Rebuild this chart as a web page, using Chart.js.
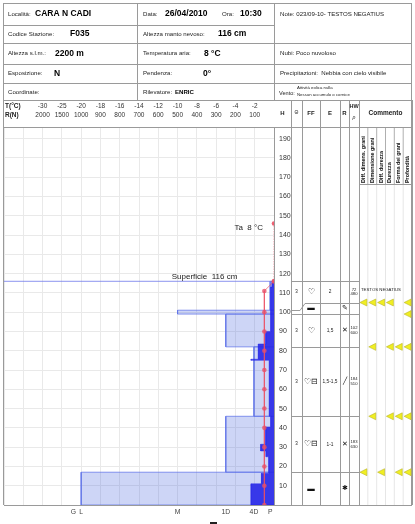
<!DOCTYPE html>
<html>
<head>
<meta charset="utf-8">
<script src="https://cdn.jsdelivr.net/npm/chart.js@4"></script>
<style>
  html, body { margin: 0; padding: 0; background: #fff; }
  #wrap { position: relative; width: 415px; height: 524px; }
</style>
</head>
<body>
<div id="wrap"><canvas id="profile"></canvas></div>
<script>
// header row of the plot: one label pair per grid cell, counted from the right edge
const tempTicks = [-2, -4, -6, -8, -10, -12, -14, -16, -18, -20, -25, -30];
const ramTicks = [100, 200, 300, 400, 500, 600, 700, 800, 900, 1000, 1500, 2000];

// hand hardness classes on the bottom axis (in grid cells from the right)
const hardLabels = ['G', 'L', 'M', '1D', '4D', 'P'];
const hardPos = [10.4, 10, 5, 2.5, 1.04, 0.2];

// stratigraphy (cm) and hand hardness per layer
const layerTop = [116, 101, 99, 82, 46, 17];
const layerBottom = [101, 99, 82, 46, 17, 0];
const layerHard = ['P', 'M', '1D', '4D', '1D', 'L'];

// ram penetration profile (N)
const ramTop = [116, 113, 90, 83.5, 75.6, 75, 46, 40.5, 31.5, 28, 25, 16.5, 11];
const ramBottom = [113, 90, 83.5, 75.6, 75, 46, 40.5, 31.5, 28, 25, 16.5, 11, 0];
const ramN = [10, 17, 43, 81, 119, 24, 17, 43, 69, 41, 27, 65, 119];

// snow temperature profile
const tempH = [116, 111, 100, 90, 80, 70, 60, 50, 40, 30, 20, 10, 0];
const tempC = [0, -1, -1, -1, -1, -1, -1, -1, -1, -1, -1, -1, -1];
const airH = 146;
const airT = 8;
const surfaceH = 116;

// layer table on the right (thin crust widened in the table)
const rowTop = [116, 105, 99, 82, 46, 17];
const rowBottom = [105, 99, 82, 46, 17, 0];
const wetness = ['3', '', '3', '3', '3', ''];
const grainForm = ['\u2661', '\u25AC', '\u2661', '\u2661\u229F', '\u2661\u229F', '\u25AC'];
const grainSize = ['2', '', '1,5', '1,5-1,5', '1-1', ''];
const hardSym = ['', '\u270E', '\u2715', '\u2571', '\u2715', '\u2731'];
const hwVal = ['72', '', '102', '184', '183', ''];
const density = ['480', '', '600', '510', '630', ''];
const comments = ['TESTOS NEGATIUS', '', '', '', '', ''];

// threshold markers ("lemons") per table boundary, one flag per comment sub-column
const lemonH = [105, 99, 82, 46, 17];
const lemonCols = [
  [1, 1, 1, 1, 0, 1],
  [0, 0, 0, 0, 0, 1],
  [0, 1, 0, 1, 1, 1],
  [0, 1, 0, 1, 1, 1],
  [1, 0, 1, 0, 1, 1]
];
const commentHead = ['Diff. dimens. grani', 'Dimensione grani', 'Diff. durezza', 'Durezza', 'Forma dei grani', 'Profondit\u00e0'];

const FONT = '"Liberation Sans", Arial, sans-serif';
Chart.defaults.font.family = FONT;

// value -> grid cell, using the header tick row as the scale
function toCell(v, ticks) {
  const a = Math.abs(v);
  if (v > 0 && ticks === tempTicks) return 0;
  let prev = 0, prevCell = 0;
  for (let i = 0; i < ticks.length; i++) {
    const t = Math.abs(ticks[i]);
    if (a <= t) return prevCell + (a - prev) / (t - prev);
    prev = t; prevCell = i + 1;
  }
  return ticks.length;
}
const hardCell = {};
hardLabels.forEach((l, i) => hardCell[l] = hardPos[i]);

const hardSets = layerTop.map((top, i) => {
  const c = hardCell[layerHard[i]];
  return {
    data: [{x: 0, y: top}, {x: c, y: top}, {x: c, y: layerBottom[i]}, {x: 0, y: layerBottom[i]}],
    fill: 'shape',
    backgroundColor: 'rgba(70,100,220,0.27)',
    borderColor: 'rgba(95,115,232,0.75)',
    borderWidth: 1,
    pointRadius: 0,
    order: 5
  };
});

const ramPts = [{x: 0, y: ramTop[0]}];
ramTop.forEach((t, i) => {
  const c = toCell(ramN[i], ramTicks);
  ramPts.push({x: c, y: t}, {x: c, y: ramBottom[i]});
});
ramPts.push({x: 0, y: 0});

const snowTemp = tempH.map((h, i) => ({x: toCell(tempC[i], tempTicks), y: h}));

const datasets = [
  ...hardSets,
  {
    data: ramPts, fill: 'shape', backgroundColor: 'rgba(40,40,232,0.9)',
    borderColor: 'rgba(40,40,232,0.9)', borderWidth: 0.5, pointRadius: 0, order: 4
  },
  {
    data: [{x: 14, y: surfaceH}, {x: 0, y: surfaceH}],
    borderColor: 'rgba(110,120,235,0.8)', borderWidth: 1, pointRadius: 0, order: 3
  },
  {
    data: [{x: toCell(airT, tempTicks), y: airH}, snowTemp[0]],
    borderColor: 'rgba(235,90,110,0.6)', borderWidth: 1, borderDash: [1.5, 1],
    pointRadius: 2.3, pointBackgroundColor: 'rgba(235,70,90,0.85)', pointBorderWidth: 0, order: 2
  },
  {
    data: snowTemp,
    borderColor: 'rgba(235,80,100,0.7)', borderWidth: 1,
    pointRadius: 2.3, pointBackgroundColor: 'rgba(232,80,105,0.8)', pointBorderWidth: 0, order: 1
  }
];

function txt(ctx, s, x, y, size, o = {}) {
  ctx.font = (o.italic ? 'italic ' : '') + (o.bold ? 'bold ' : '') + size + 'px ' + FONT;
  ctx.fillStyle = o.color || '#222';
  ctx.textAlign = o.align || 'left';
  ctx.textBaseline = 'middle';
  ctx.fillText(s, x, y);
}
function line(ctx, x0, y0, x1, y1, color, w) {
  ctx.strokeStyle = color || '#999';
  ctx.lineWidth = w || 1;
  ctx.beginPath();
  ctx.moveTo(x0, y0);
  ctx.lineTo(x1, y1);
  ctx.stroke();
}

const colX = [274, 291, 302, 320, 340, 349, 359, 412];
const subX = [359, 367.8, 376.7, 385.5, 394.3, 403.2, 412];

const sheet = {
  id: 'sheet',
  afterDraw(chart) {
    const ctx = chart.ctx;
    const ys = chart.scales.y, xs = chart.scales.x;
    const g = '#9a9a9a';
    ctx.save();

    // header table
    [3.5, 100.5, 127.5].forEach(y => line(ctx, 3, y, 412, y, g));
    [43.5, 64.5, 83.5].forEach(y => line(ctx, 3, y, 412, y, g));
    line(ctx, 3, 25.5, 274, 25.5, g);
    line(ctx, 3.5, 3, 3.5, 505, g);
    line(ctx, 411.5, 3, 411.5, 505, g);
    line(ctx, 137.5, 3, 137.5, 100, g);
    line(ctx, 274.5, 3, 274.5, 100, g);

    const s = 6.1, b = 8.5;
    txt(ctx, 'Localit\u00e0:', 8, 14, s);
    txt(ctx, 'CARA N CADI', 35, 14, b, {bold: true, color: '#000'});
    txt(ctx, 'Codice Stazione:', 8, 34, s);
    txt(ctx, 'F035', 70, 34, b, {bold: true, color: '#000'});
    txt(ctx, 'Altezza s.l.m.:', 8, 53.5, s);
    txt(ctx, '2200 m', 55, 53.5, b, {bold: true, color: '#000'});
    txt(ctx, 'Esposizione:', 8, 73.5, s);
    txt(ctx, 'N', 54, 73.5, b, {bold: true, color: '#000'});
    txt(ctx, 'Coordinate:', 8, 92, s);
    txt(ctx, 'Data:', 143, 14, s);
    txt(ctx, '26/04/2010', 165, 14, b, {bold: true, color: '#000'});
    txt(ctx, 'Ora:', 222, 14, s);
    txt(ctx, '10:30', 240, 14, b, {bold: true, color: '#000'});
    txt(ctx, 'Altezza manto nevoso:', 143, 34, s);
    txt(ctx, '116 cm', 218, 34, b, {bold: true, color: '#000'});
    txt(ctx, 'Temperatura aria:', 143, 53.5, s);
    txt(ctx, '8 \u00b0C', 204, 53.5, b, {bold: true, color: '#000'});
    txt(ctx, 'Pendenza:', 143, 73.5, s);
    txt(ctx, '0\u00b0', 203, 73.5, b, {bold: true, color: '#000'});
    txt(ctx, 'Rilevatore:', 143, 92, s);
    txt(ctx, 'ENRIC', 175, 92, 6.1, {bold: true, color: '#000'});
    txt(ctx, 'Note: 023/09-10- TESTOS NEGATIUS', 280, 14, s);
    txt(ctx, 'Nubi: Poco nuvoloso', 280, 53.5, s);
    txt(ctx, 'Precipitazioni:  Nebbia con cielo visibile', 280, 73.5, s);
    txt(ctx, 'Vento:', 279, 93, 5.6);
    txt(ctx, 'Attivit\u00e0 eolica nulla', 297, 87.5, 4.3);
    txt(ctx, 'Nessun accumulo o cornice', 297, 95, 4.3);

    txt(ctx, 'T(\u00b0C)', 5, 106, 6.5, {bold: true});
    txt(ctx, 'R(N)', 5, 115, 6.5, {bold: true});

    // right table frame
    colX.forEach((x, i) => { if (i > 0) line(ctx, x + 0.5, 100, x + 0.5, 505, g); });
    line(ctx, 274, 505.5, 412, 505.5, g);
    txt(ctx, 'H', 282.5, 113, 6, {bold: true, align: 'center'});
    txt(ctx, '\u0398', 296.5, 113, 5, {align: 'center'});
    txt(ctx, 'FF', 311, 113, 6, {bold: true, align: 'center'});
    txt(ctx, 'E', 330, 113, 6, {bold: true, align: 'center'});
    txt(ctx, 'R', 344.5, 113, 6, {bold: true, align: 'center'});
    txt(ctx, 'HW', 354, 106, 5.5, {bold: true, align: 'center'});
    txt(ctx, '\u03c1', 354, 118, 5, {italic: true, align: 'center'});
    txt(ctx, 'Commento', 385.5, 113, 6.5, {bold: true, align: 'center'});

    // comment sub-columns with rotated headings
    subX.slice(1, -1).forEach(x => {
      line(ctx, x, 127, x, 184, g, 0.8);
      line(ctx, x, 184, x, 505, '#e0e0e0', 0.8);
    });
    line(ctx, 359, 184.5, 412, 184.5, g);
    commentHead.forEach((h, i) => {
      ctx.save();
      ctx.translate((subX[i] + subX[i + 1]) / 2, 183);
      ctx.rotate(-Math.PI / 2);
      txt(ctx, h, 0, 0, 5.4, {bold: true, color: '#111'});
      ctx.restore();
    });

    // layer rows
    rowTop.forEach((top, i) => {
      const yt = Math.round(ys.getPixelForValue(top)) + 0.5;
      if (top === layerTop[i]) {
        line(ctx, 291, yt, 359, yt, g);
      } else {
        const yr = Math.round(ys.getPixelForValue(layerTop[i])) + 0.5;
        ctx.strokeStyle = g; ctx.lineWidth = 1;
        ctx.beginPath();
        ctx.moveTo(291, yr); ctx.lineTo(300, yr); ctx.lineTo(305, yt); ctx.lineTo(359, yt);
        ctx.stroke();
      }
      const yc = (ys.getPixelForValue(top) + ys.getPixelForValue(rowBottom[i])) / 2;
      txt(ctx, wetness[i], 296.5, yc, 4.5, {align: 'center'});
      txt(ctx, grainForm[i], 311, yc, 7.5, {align: 'center', color: '#111'});
      txt(ctx, grainSize[i], 330, yc, 4.8, {align: 'center'});
      txt(ctx, hardSym[i], 344.5, yc, 6.5, {align: 'center', color: '#111'});
      if (hwVal[i]) {
        txt(ctx, hwVal[i], 354, yc - 2.4, 4.2, {align: 'center'});
        txt(ctx, density[i], 354, yc + 2.4, 4.2, {align: 'center'});
      }
      if (comments[i]) txt(ctx, comments[i], 361, ys.getPixelForValue(top) + 9, 4.3);
    });

    // threshold markers
    lemonH.forEach((h, r) => {
      const y = ys.getPixelForValue(h);
      lemonCols[r].forEach((on, c) => {
        if (!on) return;
        const cx = (subX[c] + subX[c + 1]) / 2;
        ctx.beginPath();
        ctx.moveTo(cx - 3.5, y);
        ctx.lineTo(cx + 3.5, y - 3.5);
        ctx.lineTo(cx + 3.5, y + 3.5);
        ctx.closePath();
        ctx.fillStyle = '#f0ee22';
        ctx.fill();
        ctx.strokeStyle = '#b8b42a';
        ctx.lineWidth = 0.6;
        ctx.stroke();
      });
    });

    // plot annotations
    txt(ctx, 'Superficie  ' + surfaceH + ' cm', xs.getPixelForValue(3.6), ys.getPixelForValue(surfaceH) - 4.5, 8, {align: 'center'});
    txt(ctx, 'Ta  ' + airT + ' \u00b0C', xs.getPixelForValue(0.57), ys.getPixelForValue(airH) + 4.5, 8, {align: 'right'});
    // top of the legend block cut off by the page edge
    ctx.fillStyle = '#222';
    ctx.fillRect(210, 522, 7, 2);

    ctx.restore();
  }
};

new Chart(document.getElementById('profile'), {
  type: 'line',
  data: { datasets },
  options: {
    indexAxis: 'y',
    responsive: true,
    maintainAspectRatio: false,
    animation: false,
    layout: { autoPadding: false, padding: { left: 4, top: 100, right: 3, bottom: 0 } },
    plugins: { legend: { display: false }, tooltip: { enabled: false } },
    scales: {
      x: {
        type: 'linear', position: 'bottom', min: 0, max: 14, reverse: true,
        afterBuildTicks: s => { s.ticks = hardPos.map(v => ({ value: v })); },
        afterFit: s => { s.height = 19; },
        ticks: { autoSkip: false, maxRotation: 0, padding: -5, color: '#444', font: { size: 6.8 },
                 callback: (v, i) => hardLabels[i] },
        grid: { display: false },
        border: { display: true, color: '#9a9a9a' }
      },
      xt: {
        type: 'linear', position: 'top', min: 0, max: 14, reverse: true,
        afterBuildTicks: s => { s.ticks = [0, ...tempTicks.map((t, i) => i + 1), 13, 14].map(v => ({ value: v })); },
        afterFit: s => { s.height = 27; },
        ticks: { autoSkip: false, maxRotation: 0, padding: 8, color: '#333', font: { size: 6.5, lineHeight: 1.3 },
                 callback: v => (v >= 1 && v <= tempTicks.length) ? [String(tempTicks[v - 1]), String(ramTicks[v - 1])] : '' },
        grid: { color: '#e9e9e9', drawTicks: false },
        border: { display: false }
      },
      y: {
        type: 'linear', position: 'right', min: 0, max: 196,
        afterFit: s => { s.width = 138; },
        ticks: { stepSize: 10, padding: 5, color: '#333', font: { size: 7 },
                 callback: v => (v > 0 && v % 10 === 0) ? v : '' },
        grid: { color: '#e9e9e9', drawTicks: false },
        border: { display: true, color: '#9a9a9a' }
      }
    }
  },
  plugins: [sheet]
});
</script>
</body>
</html>
